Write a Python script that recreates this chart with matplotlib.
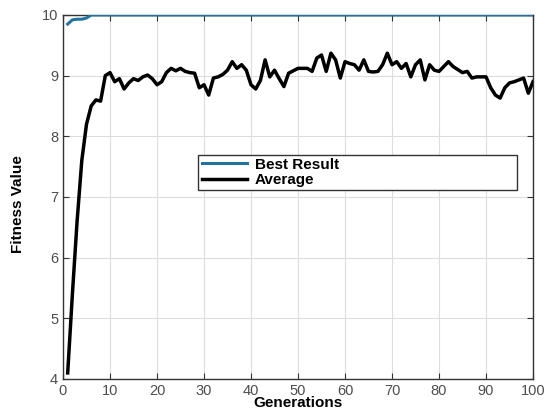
import matplotlib.pyplot as plt

# Generations 1..100
generations = list(range(1, 101))

# Best fitness per generation
best_result = [9.85, 9.92, 9.93, 9.93, 9.95] + [10.0] * 95

# Average fitness per generation
average = [
    4.1, 5.4, 6.6, 7.6, 8.2, 8.5, 8.6, 8.58, 9.0, 9.05,
    8.9, 8.95, 8.78, 8.88, 8.95, 8.92, 8.98, 9.01, 8.95, 8.85,
    8.9, 9.05, 9.12, 9.08, 9.12, 9.07, 9.05, 9.04, 8.8, 8.85,
    8.68, 8.96, 8.98, 9.02, 9.09, 9.23, 9.12, 9.18, 9.09, 8.85,
    8.78, 8.92, 9.26, 8.98, 9.09, 8.95, 8.82, 9.04, 9.08, 9.12,
    9.12, 9.12, 9.07, 9.29, 9.34, 9.07, 9.37, 9.26, 8.96, 9.23,
    9.2, 9.18, 9.09, 9.26, 9.07, 9.06, 9.07, 9.18, 9.37, 9.18,
    9.23, 9.12, 9.2, 8.98, 9.18, 9.26, 8.93, 9.18, 9.09, 9.07,
    9.15, 9.23, 9.15, 9.1, 9.05, 9.07, 8.96, 8.98, 8.98, 8.98,
    8.8, 8.68, 8.63, 8.8, 8.88, 8.9, 8.93, 8.96, 8.71, 8.9,
]

xticks = list(range(0, 101, 10))
yticks = [4, 5, 6, 7, 8, 9, 10]

plt.rcParams['font.family'] = ['Liberation Sans', 'DejaVu Sans']

fig = plt.figure(figsize=(5.44, 4.16), dpi=100)
ax = fig.add_axes([0.1158, 0.089, 0.864, 0.875])

ax.plot(generations, best_result, color="#2274a0", linewidth=2.2, label="Best Result", zorder=3)
ax.plot(generations, average, color="black", linewidth=2.5, label="Average", zorder=3)

ax.set_xlim(0, 100)
ax.set_ylim(4, 10)
ax.set_xticks(xticks)
ax.set_yticks(yticks)
ax.grid(True, color="#dddddd", linewidth=0.8)
ax.tick_params(direction="in", top=True, right=True, labelsize=10.5,
               labelcolor="#4d4d4d", length=4, color="#333333")
for s in ax.spines.values():
    s.set_color("#333333")
    s.set_linewidth(1.0)

ax.set_xlabel("Generations", fontsize=11, fontweight="bold", labelpad=-1)
ax.set_ylabel("Fitness Value", fontsize=11, fontweight="bold")
ax.yaxis.set_label_coords(-0.08, 0.48)

leg = ax.legend(loc="upper left", bbox_to_anchor=(0.272, 0.527, 0.711, 0.11),
                mode="expand", frameon=True, fancybox=False, framealpha=1,
                edgecolor="#333333", prop={"weight": "bold", "size": 11},
                handlelength=3.0, handletextpad=0.5, borderpad=0.2,
                labelspacing=0.1)
leg.get_frame().set_linewidth(1.0)

fig.savefig("out.png", dpi=100)
